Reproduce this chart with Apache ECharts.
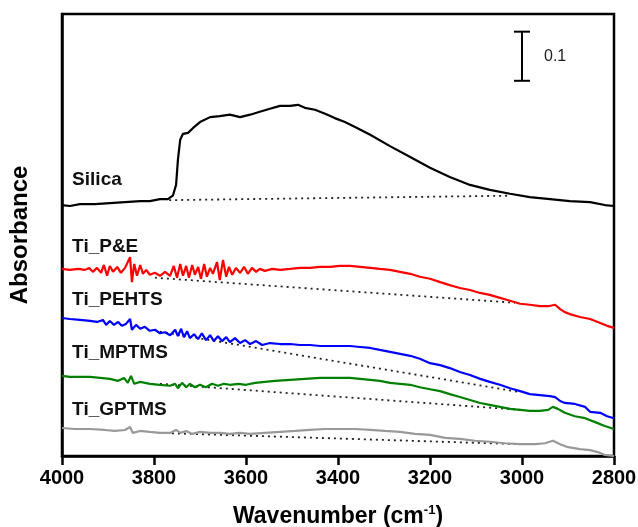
<!DOCTYPE html>
<html lang="en">
<head>
<meta charset="UTF-8">
<title>FTIR spectra</title>
<script src="https://cdn.jsdelivr.net/npm/echarts@6/dist/echarts.min.js"></script>
<style>
  html, body { margin: 0; padding: 0; background: #fff; }
  #main { width: 638px; height: 527px; }
</style>
</head>
<body>
<div id="main"></div>
<script type="text/javascript">
// [wavenumber (cm-1), absorbance]
var silica = [
  [4000,0.511],[3983,0.509],[3961,0.513],[3928,0.513],[3896,0.515],[3863,0.517],[3830,0.519],
  [3809,0.519],[3787,0.523],[3770,0.523],[3759,0.530],[3752,0.552],[3748,0.603],[3743,0.644],
  [3737,0.656],[3726,0.658],[3715,0.668],[3700,0.680],[3678,0.690],[3657,0.692],[3635,0.695],
  [3613,0.690],[3591,0.695],[3570,0.701],[3548,0.707],[3526,0.713],[3504,0.713],[3487,0.715],
  [3472,0.709],[3450,0.705],[3428,0.697],[3407,0.688],[3385,0.680],[3363,0.670],[3330,0.654],
  [3287,0.631],[3243,0.609],[3200,0.587],[3157,0.568],[3113,0.552],[3070,0.542],[3026,0.534],
  [2983,0.527],[2939,0.523],[2896,0.519],[2852,0.517],[2820,0.511],[2800,0.509]
];
var tiPE = [
  [4000,0.381],[3983,0.379],[3965,0.381],[3950,0.379],[3941,0.383],[3933,0.375],[3924,0.383],
  [3915,0.373],[3909,0.389],[3902,0.367],[3896,0.387],[3889,0.375],[3880,0.385],[3872,0.373],
  [3863,0.383],[3857,0.395],[3852,0.405],[3848,0.354],[3843,0.391],[3837,0.367],[3830,0.389],
  [3824,0.371],[3817,0.379],[3809,0.369],[3798,0.373],[3787,0.367],[3776,0.375],[3765,0.367],
  [3757,0.387],[3750,0.363],[3743,0.391],[3737,0.367],[3730,0.387],[3724,0.363],[3717,0.389],
  [3711,0.369],[3704,0.385],[3698,0.361],[3691,0.391],[3685,0.365],[3678,0.383],[3672,0.371],
  [3663,0.395],[3657,0.358],[3650,0.399],[3643,0.365],[3637,0.385],[3630,0.369],[3622,0.383],
  [3613,0.373],[3604,0.385],[3596,0.371],[3587,0.383],[3578,0.375],[3570,0.381],[3559,0.377],
  [3543,0.381],[3526,0.379],[3504,0.381],[3483,0.383],[3461,0.383],[3439,0.385],[3417,0.385],
  [3396,0.387],[3374,0.387],[3352,0.385],[3330,0.383],[3309,0.381],[3287,0.379],[3265,0.375],
  [3243,0.371],[3222,0.365],[3200,0.361],[3178,0.354],[3157,0.348],[3135,0.342],[3113,0.338],
  [3091,0.332],[3070,0.328],[3048,0.322],[3026,0.316],[3004,0.310],[2983,0.308],[2961,0.305],
  [2943,0.305],[2928,0.308],[2917,0.299],[2907,0.293],[2896,0.289],[2874,0.283],[2852,0.279],
  [2830,0.271],[2815,0.265],[2800,0.261]
];
var tiPEHTS = [
  [4000,0.281],[3983,0.279],[3961,0.277],[3939,0.275],[3924,0.273],[3911,0.277],[3904,0.267],
  [3896,0.275],[3887,0.267],[3878,0.273],[3870,0.265],[3861,0.269],[3852,0.279],[3848,0.257],
  [3839,0.267],[3830,0.259],[3820,0.263],[3809,0.255],[3798,0.257],[3787,0.250],[3776,0.252],
  [3765,0.246],[3754,0.257],[3748,0.244],[3741,0.259],[3735,0.242],[3728,0.254],[3722,0.240],
  [3713,0.248],[3704,0.238],[3696,0.250],[3687,0.236],[3678,0.246],[3670,0.234],[3661,0.244],
  [3652,0.234],[3643,0.242],[3635,0.232],[3624,0.240],[3613,0.230],[3602,0.236],[3591,0.228],
  [3578,0.234],[3565,0.226],[3548,0.230],[3526,0.228],[3504,0.228],[3483,0.226],[3461,0.226],
  [3439,0.224],[3417,0.224],[3396,0.224],[3374,0.224],[3352,0.222],[3330,0.220],[3309,0.216],
  [3287,0.212],[3265,0.208],[3243,0.204],[3222,0.198],[3200,0.189],[3178,0.185],[3157,0.179],
  [3135,0.171],[3113,0.165],[3091,0.157],[3070,0.151],[3048,0.145],[3026,0.138],[3004,0.132],
  [2983,0.126],[2961,0.124],[2939,0.122],[2928,0.120],[2917,0.112],[2907,0.108],[2885,0.106],
  [2863,0.100],[2852,0.090],[2830,0.088],[2815,0.081],[2800,0.077]
];
var tiMPTMS = [
  [4000,0.163],[3983,0.161],[3961,0.161],[3939,0.161],[3917,0.159],[3896,0.157],[3878,0.153],
  [3865,0.159],[3857,0.149],[3850,0.163],[3843,0.147],[3830,0.151],[3809,0.147],[3787,0.145],
  [3765,0.143],[3754,0.147],[3748,0.138],[3739,0.149],[3730,0.140],[3722,0.147],[3711,0.140],
  [3700,0.145],[3687,0.140],[3674,0.147],[3661,0.143],[3648,0.147],[3635,0.145],[3617,0.147],
  [3600,0.145],[3580,0.149],[3559,0.151],[3537,0.153],[3504,0.155],[3472,0.157],[3439,0.159],
  [3409,0.159],[3374,0.159],[3352,0.157],[3330,0.155],[3309,0.153],[3287,0.149],[3265,0.147],
  [3243,0.145],[3222,0.140],[3200,0.136],[3178,0.132],[3157,0.126],[3135,0.120],[3113,0.114],
  [3091,0.108],[3070,0.104],[3048,0.100],[3026,0.096],[3004,0.094],[2983,0.092],[2961,0.092],
  [2943,0.094],[2933,0.100],[2922,0.096],[2907,0.088],[2885,0.081],[2863,0.077],[2841,0.069],
  [2820,0.061],[2800,0.055]
];
var tiGPTMS = [
  [4000,0.057],[3972,0.055],[3939,0.055],[3907,0.053],[3885,0.051],[3863,0.053],[3852,0.059],
  [3846,0.047],[3830,0.051],[3809,0.049],[3787,0.047],[3765,0.047],[3752,0.053],[3743,0.047],
  [3730,0.051],[3717,0.045],[3700,0.049],[3678,0.047],[3657,0.047],[3635,0.045],[3613,0.047],
  [3591,0.045],[3559,0.047],[3526,0.049],[3493,0.051],[3461,0.053],[3428,0.055],[3396,0.055],
  [3363,0.055],[3330,0.053],[3298,0.051],[3265,0.049],[3233,0.045],[3200,0.043],[3167,0.037],
  [3135,0.035],[3102,0.031],[3070,0.029],[3037,0.026],[3004,0.024],[2972,0.024],[2950,0.026],
  [2933,0.031],[2917,0.024],[2900,0.018],[2874,0.014],[2852,0.012],[2835,0.008],[2820,0.002],
  [2800,0.000]
];
// dotted baselines: [start, end]
var baseSilica  = [[3767,0.521],[3028,0.530]];
var baseTiPE    = [[3798,0.363],[3015,0.312]];
var baseTiPEHTS = [[3787,0.253],[3004,0.130]];
var baseTiMPTMS = [[3787,0.147],[3004,0.094]];
var baseTiGPTMS = [[3787,0.047],[3004,0.024]];
// sample names: [wavenumber, absorbance, text]
var sampleLabels = [
  [3978,0.562,'Silica'],
  [3978,0.426,'Ti_P&E'],
  [3978,0.318,'Ti_PEHTS'],
  [3978,0.210,'Ti_MPTMS'],
  [3978,0.094,'Ti_GPTMS']
];
// scale bar: [wavenumber, from, to, text]
var scaleBar = [[3000,0.764,0.864,'0.1']];

var FONT = '"Liberation Sans", Arial, sans-serif';
var chart = echarts.init(document.getElementById('main'), null, { renderer: 'canvas' });

function spectrum(name, data, color) {
  return {
    name: name, type: 'line', data: data, showSymbol: false, symbol: 'none',
    lineStyle: { color: color, width: 2.2 }, z: 3
  };
}
function baseline(data) {
  return {
    type: 'line', data: data, showSymbol: false, symbol: 'none',
    lineStyle: { color: '#222', width: 1.8, type: [2, 4] }, z: 2
  };
}

var option = {
  animation: false,
  backgroundColor: '#fff',
  grid: {
    left: 62, right: 24, top: 14, bottom: 71,
    outerBoundsMode: 'none', containLabel: false,
    show: true, borderColor: '#000', borderWidth: 2.5
  },
  xAxis: {
    type: 'value', inverse: true, min: 2800, max: 4000, interval: 200,
    name: 'Wavenumber (cm{sup|-1})', nameLocation: 'middle', nameGap: 48,
    nameTextStyle: {
      fontFamily: FONT, fontWeight: 'bold', fontSize: 23, color: '#000',
      rich: { sup: { fontFamily: FONT, fontWeight: 'bold', fontSize: 13, color: '#000', padding: [0, 0, 12, 0] } }
    },
    axisLine: { lineStyle: { color: '#000', width: 2.5 } },
    axisTick: { show: true, inside: false, length: 9, lineStyle: { color: '#000', width: 2.5 } },
    axisLabel: {
      margin: 12, fontFamily: FONT, fontWeight: 'bold', fontSize: 20, color: '#000',
      formatter: function (v) { return String(v); }
    },
    splitLine: { show: false }
  },
  yAxis: {
    type: 'value', min: 0, max: 0.9,
    name: 'Absorbance', nameLocation: 'middle', nameGap: 30,
    nameTextStyle: { fontFamily: FONT, fontWeight: 'bold', fontSize: 24, color: '#000' },
    axisLine: { show: true, lineStyle: { color: '#000', width: 2.5 } },
    axisTick: { show: false },
    axisLabel: { show: false },
    splitLine: { show: false }
  },
  series: [
    baseline(baseSilica), baseline(baseTiPE), baseline(baseTiPEHTS),
    baseline(baseTiMPTMS), baseline(baseTiGPTMS),
    spectrum('Silica', silica, '#000000'),
    spectrum('Ti_P&E', tiPE, '#ff0000'),
    spectrum('Ti_PEHTS', tiPEHTS, '#0000ff'),
    spectrum('Ti_MPTMS', tiMPTMS, '#008000'),
    spectrum('Ti_GPTMS', tiGPTMS, '#999999'),
    {
      type: 'scatter', data: sampleLabels, symbolSize: 0, z: 5,
      itemStyle: { opacity: 1 },
      label: {
        show: true, position: 'right', distance: 0,
        formatter: function (p) { return p.value[2]; },
        fontFamily: FONT, fontWeight: 'bold', fontSize: 19, color: '#111',
        textBorderWidth: 0
      }
    },
    {
      type: 'custom', data: scaleBar, z: 5,
      renderItem: function (params, api) {
        var top = api.coord([api.value(0), api.value(2)]);
        var bot = api.coord([api.value(0), api.value(1)]);
        var hw = 8;
        var st = { stroke: '#000', lineWidth: 2 };
        return {
          type: 'group',
          children: [
            { type: 'line', shape: { x1: top[0], y1: top[1], x2: bot[0], y2: bot[1] }, style: st },
            { type: 'line', shape: { x1: top[0] - hw, y1: top[1], x2: top[0] + hw, y2: top[1] }, style: st },
            { type: 'line', shape: { x1: bot[0] - hw, y1: bot[1], x2: bot[0] + hw, y2: bot[1] }, style: st },
            {
              type: 'text',
              style: {
                text: scaleBar[params.dataIndex][3], x: top[0] + 22, y: (top[1] + bot[1]) / 2,
                verticalAlign: 'middle', align: 'left',
                font: '16px ' + FONT, fill: '#222'
              }
            }
          ]
        };
      }
    }
  ]
};
chart.setOption(option);
</script>
</body>
</html>
